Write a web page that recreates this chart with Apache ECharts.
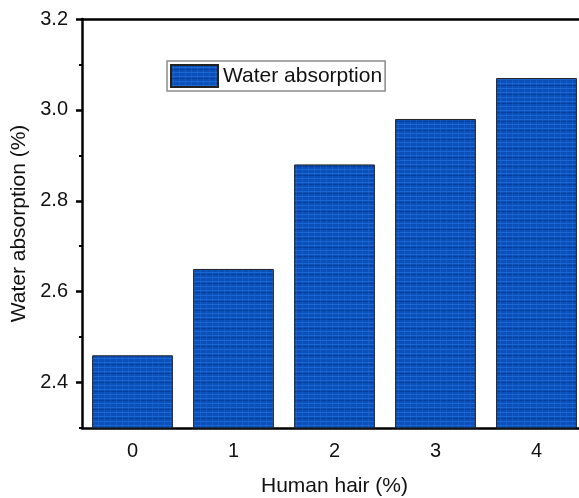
<!DOCTYPE html>
<html>
<head>
<meta charset="utf-8">
<script src="https://cdn.jsdelivr.net/npm/echarts@6/dist/echarts.min.js"></script>
<style>html,body{margin:0;padding:0;background:#fff;}#c{width:579px;height:498px;}</style>
</head>
<body>
<div id="c"></div>
<script>
const categories = ['0', '1', '2', '3', '4'];
const waterAbsorption = [2.46, 2.65, 2.88, 2.98, 3.07];
const yMajorTicks = [2.4, 2.6, 2.8, 3.0, 3.2];
const yMinorTicks = [2.3, 2.5, 2.7, 2.9, 3.1];
const seriesName = 'Water absorption';

// striped blue fill like the reference
const pc = document.createElement('canvas');
pc.width = 6; pc.height = 9;
const g = pc.getContext('2d');
g.fillStyle = '#0b50b9'; g.fillRect(0, 0, 6, 9);
g.fillStyle = '#1a66d2'; g.fillRect(0, 2, 6, 1); g.fillRect(0, 7, 6, 1);
g.fillStyle = '#073f9c'; g.fillRect(0, 4, 6, 1);
g.fillStyle = 'rgba(40,110,220,0.35)'; g.fillRect(2, 0, 1, 9);

const chart = echarts.init(document.getElementById('c'), null, {renderer: 'canvas'});
const font = 'Liberation Sans, Arial, sans-serif';
const axLine = {show: true, lineStyle: {color: '#000', width: 2.5}};
chart.setOption({
  animation: false,
  backgroundColor: '#fff',
  grid: {left: 82, top: 19, width: 505, height: 409, outerBoundsMode: 'none', containLabel: false},
  legend: {
    left: 167, top: 61,
    data: [seriesName],
    icon: 'rect',
    itemWidth: 47, itemHeight: 22, itemGap: 5,
    padding: [3, 3, 3, 3],
    borderColor: '#8a8a8a', borderWidth: 1.5,
    textStyle: {fontFamily: font, fontSize: 21, color: '#111'}
  },
  xAxis: [
    {type: 'category', data: categories, position: 'bottom',
     axisLine: axLine,
     axisTick: {alignWithLabel: true, length: 6, lineStyle: {width: 2.5, color: '#000'}},
     axisLabel: {fontFamily: font, fontSize: 20, color: '#111', margin: 13},
     name: 'Human hair (%)', nameLocation: 'middle', nameGap: 48,
     nameTextStyle: {fontFamily: font, fontSize: 21, color: '#111'}},
    {type: 'category', data: categories, position: 'bottom',
     axisLine: {show: false},
     axisTick: {alignWithLabel: false, length: 3, lineStyle: {width: 2, color: '#000'}},
     axisLabel: {show: false}},
    {type: 'category', data: categories, position: 'top',
     axisLine: axLine,
     axisTick: {inside: true, alignWithLabel: false, length: 5, lineStyle: {width: 2.5, color: '#000'}},
     axisLabel: {show: false}},
    {type: 'category', data: categories, position: 'top',
     axisLine: {show: false},
     axisTick: {inside: true, alignWithLabel: true, length: 3, lineStyle: {width: 2, color: '#000'}},
     axisLabel: {show: false}}
  ],
  yAxis: [
    {type: 'value', min: 2.3, max: 3.2, position: 'left',
     axisLine: axLine,
     splitLine: {show: false},
     axisTick: {show: true, customValues: yMajorTicks, length: 6, lineStyle: {width: 2.5, color: '#000'}},
     axisLabel: {customValues: yMajorTicks, fontFamily: font, fontSize: 20, color: '#111', margin: 14,
                 formatter: v => v.toFixed(1)},
     name: 'Water absorption (%)', nameLocation: 'middle', nameGap: 47,
     nameTextStyle: {fontFamily: font, fontSize: 21, color: '#111'}},
    {type: 'value', min: 2.3, max: 3.2, position: 'left',
     axisLine: {show: false},
     splitLine: {show: false},
     axisTick: {show: true, customValues: yMinorTicks, length: 3, lineStyle: {width: 2, color: '#000'}},
     axisLabel: {show: false}}
  ],
  series: [{
    name: seriesName, type: 'bar', data: waterAbsorption,
    xAxisIndex: 0, yAxisIndex: 0, barWidth: '80%',
    itemStyle: {color: {image: pc, repeat: 'repeat'}, borderColor: '#222', borderWidth: 1}
  }]
});
</script>
</body>
</html>
